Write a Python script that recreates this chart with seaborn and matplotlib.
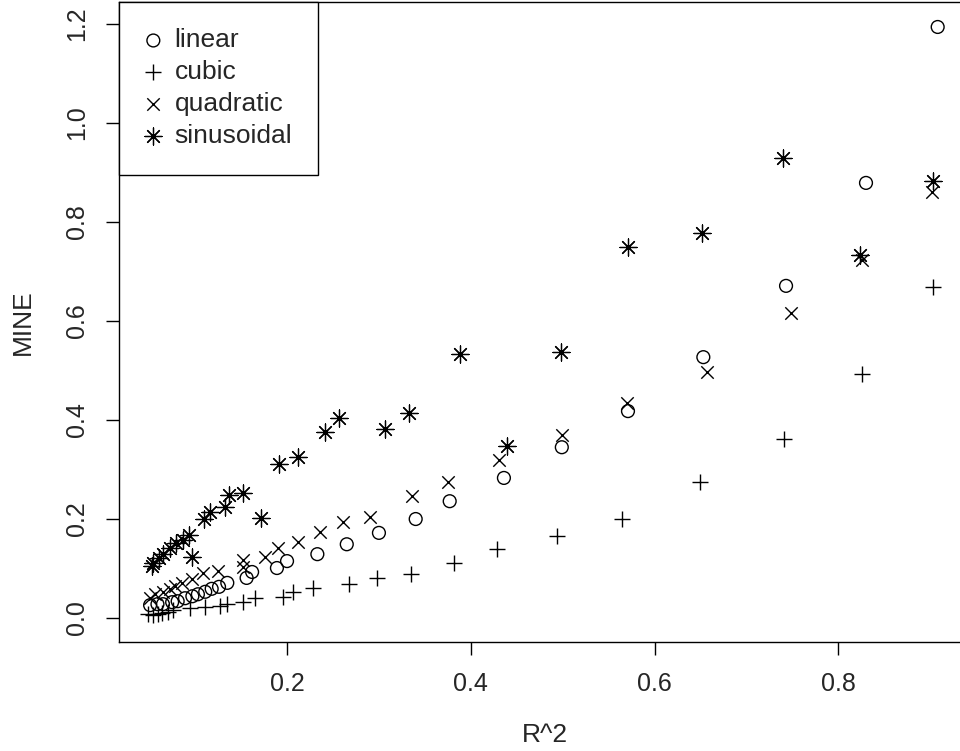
import matplotlib
matplotlib.use("Agg")
import matplotlib.pyplot as plt
import seaborn as sns

# values (R^2 vs MINE)
linear_x = [0.051, 0.059, 0.065, 0.075, 0.081, 0.089, 0.097, 0.103, 0.111, 0.118, 0.126, 0.135,
            0.156, 0.162, 0.189, 0.200, 0.233, 0.265, 0.300, 0.340, 0.377, 0.436, 0.499, 0.571,
            0.653, 0.743, 0.830, 0.908]
linear_y = [0.026, 0.028, 0.028, 0.032, 0.034, 0.040, 0.044, 0.048, 0.053, 0.059, 0.063, 0.071,
            0.081, 0.093, 0.101, 0.115, 0.129, 0.149, 0.172, 0.200, 0.236, 0.283, 0.345, 0.418,
            0.527, 0.671, 0.879, 1.194]

cubic_x = [0.049, 0.054, 0.060, 0.064, 0.071, 0.076, 0.094, 0.111, 0.127, 0.135, 0.152, 0.165,
           0.196, 0.207, 0.228, 0.267, 0.298, 0.335, 0.382, 0.429, 0.494, 0.565, 0.649, 0.741,
           0.826, 0.903]
cubic_y = [0.008, 0.006, 0.008, 0.010, 0.012, 0.016, 0.020, 0.022, 0.024, 0.028, 0.032, 0.040,
           0.042, 0.053, 0.061, 0.069, 0.081, 0.089, 0.111, 0.139, 0.166, 0.200, 0.275, 0.362,
           0.493, 0.669]

quad_x = [0.051, 0.056, 0.065, 0.073, 0.078, 0.086, 0.097, 0.109, 0.125, 0.152, 0.152, 0.176,
          0.190, 0.212, 0.236, 0.261, 0.290, 0.336, 0.375, 0.431, 0.499, 0.570, 0.657, 0.748,
          0.826, 0.902]
quad_y = [0.040, 0.048, 0.053, 0.059, 0.065, 0.071, 0.079, 0.091, 0.096, 0.103, 0.117, 0.123,
          0.141, 0.154, 0.174, 0.194, 0.204, 0.246, 0.275, 0.319, 0.370, 0.434, 0.497, 0.616,
          0.723, 0.861]

sin_x = [0.053, 0.054, 0.061, 0.065, 0.073, 0.079, 0.087, 0.093, 0.097, 0.110, 0.116, 0.133,
         0.137, 0.152, 0.172, 0.191, 0.212, 0.241, 0.257, 0.307, 0.333, 0.388, 0.439, 0.498,
         0.571, 0.652, 0.740, 0.824, 0.903]
sin_y = [0.105, 0.111, 0.121, 0.129, 0.141, 0.152, 0.158, 0.168, 0.123, 0.200, 0.214, 0.224,
         0.248, 0.253, 0.202, 0.311, 0.325, 0.376, 0.404, 0.382, 0.414, 0.533, 0.347, 0.537,
         0.749, 0.778, 0.929, 0.733, 0.883]

x_ticks = [0.2, 0.4, 0.6, 0.8]
y_ticks = [0.0, 0.2, 0.4, 0.6, 0.8, 1.0, 1.2]

sns.set_style("ticks")
plt.rcParams['font.family'] = ['Liberation Sans', 'DejaVu Sans']

fig = plt.figure(figsize=(9.6, 7.51), dpi=100)
ax = fig.add_axes([0.124, 0.1451, 0.8875, 0.8522])

lw = 1.0
sns.scatterplot(x=linear_x, y=linear_y, marker='o', s=85, facecolor='none', edgecolor='black',
                linewidth=lw, label='linear', ax=ax)
sns.scatterplot(x=cubic_x, y=cubic_y, marker='+', s=120, color='black', linewidth=lw,
                label='cubic', ax=ax)
sns.scatterplot(x=quad_x, y=quad_y, marker='x', s=80, color='black', linewidth=lw,
                label='quadratic', ax=ax)
sns.scatterplot(x=sin_x, y=sin_y, marker=(8, 2, 0), s=150, color='black', linewidth=0.9,
                label='sinusoidal', ax=ax)

ax.set_xlim(0.0172, 0.9443)
ax.set_ylim(-0.0485, 1.2444)
ax.set_xticks(x_ticks)
ax.set_xticklabels(['%.1f' % t for t in x_ticks])
ax.set_yticks(y_ticks)
ax.set_yticklabels(['%.1f' % t for t in y_ticks], rotation=90, va='center')
ax.tick_params(axis='both', direction='out', length=9.4, width=1, color='black',
               labelsize=18, pad=12)
for sp in ax.spines.values():
    sp.set_color('black')
    sp.set_linewidth(1)

ax.set_xlabel('R^2', fontsize=19)
ax.set_ylabel('MINE', fontsize=19)
ax.xaxis.set_label_coords(0.5, -0.127)
ax.yaxis.set_label_coords(-0.099, 0.5)

leg = ax.legend(loc='upper left', bbox_to_anchor=(0, 1), borderaxespad=0, fontsize=19,
                frameon=True, fancybox=False, edgecolor='black', framealpha=1,
                borderpad=1.0, handlelength=0.6, handletextpad=0.5, labelspacing=0.3)
leg.get_frame().set_linewidth(1)

plt.savefig('out.png', dpi=100)
